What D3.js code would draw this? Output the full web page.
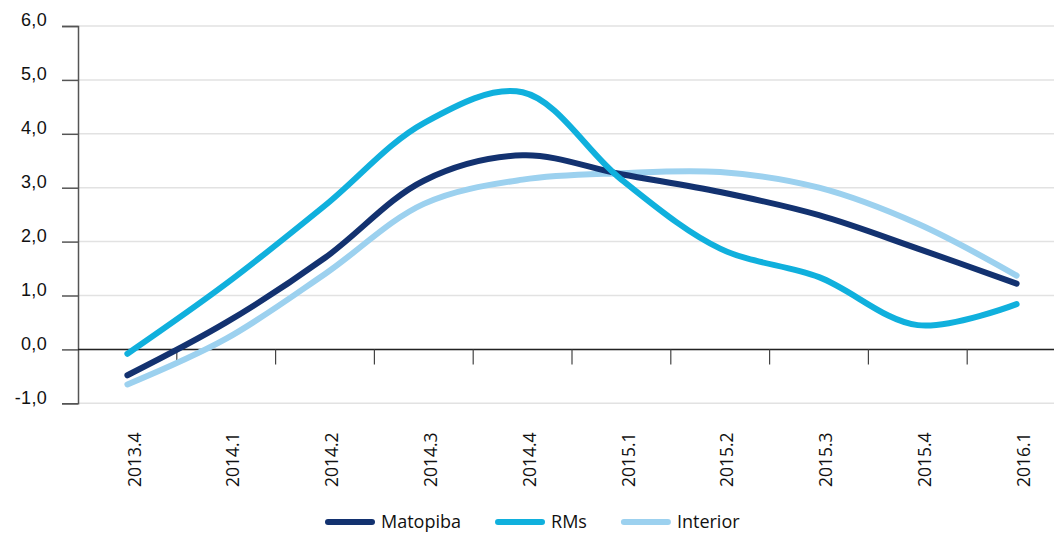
<!DOCTYPE html>
<html>
<head>
<meta charset="utf-8">
<script src="https://cdn.jsdelivr.net/npm/d3@7"></script>
<style>
  body { margin: 0; background: #fff; }
  svg { display: block; font-family: "Open Sans", "Noto Sans", sans-serif; }
</style>
</head>
<body>
<svg id="chart" width="1054" height="533"></svg>
<script>
let quarters = ['2013.4', '2014.1', '2014.2', '2014.3', '2014.4', '2015.1', '2015.2', '2015.3', '2015.4', '2016.1'];
let matopiba = [-0.48, 0.5, 1.7, 3.13, 3.6, 3.25, 2.92, 2.49, 1.87, 1.22];
let rms = [-0.08, 1.22, 2.67, 4.2, 4.77, 3.15, 1.87, 1.34, 0.45, 0.84];
let interior = [-0.65, 0.2, 1.4, 2.7, 3.15, 3.27, 3.29, 3.0, 2.33, 1.37];
let yTicks = [-1, 0, 1, 2, 3, 4, 5, 6];
let seriesNames = ['Matopiba', 'RMs', 'Interior'];

let colors = {Matopiba: '#133270', RMs: '#10b0dd', Interior: '#9cd1ef'};
let seriesData = {Matopiba: matopiba, RMs: rms, Interior: interior};

let width = 1054, height = 533;
let marginLeft = 78, plotTop = 26, plotBottom = 403.3;

let svg = d3.select('#chart');

let x = d3.scaleBand().domain(quarters).range([marginLeft, marginLeft + 98.8 * quarters.length]);
let y = d3.scaleLinear().domain([-1, 6]).range([plotBottom, plotTop]);

let locale = d3.formatLocale({decimal: ',', thousands: '.', grouping: [3], currency: ['', ''], minus: '-'});
let fmt = locale.format('.1f');

// gridlines
svg.append('g')
    .selectAll('line')
    .data(yTicks)
    .join('line')
    .attr('x1', marginLeft)
    .attr('x2', width)
    .attr('y1', d => y(d))
    .attr('y2', d => y(d))
    .attr('stroke', '#e2e2e2')
    .attr('stroke-width', 1.5);

// y axis
let yAxis = svg.append('g')
    .attr('transform', 'translate(' + marginLeft + ',0)')
    .call(d3.axisLeft(y).tickValues(yTicks).tickFormat(fmt).tickSize(16).tickPadding(15));
yAxis.select('.domain').attr('stroke', '#555').attr('stroke-width', 1.5);
yAxis.selectAll('.tick line').attr('stroke', '#555').attr('stroke-width', 1.5);
yAxis.selectAll('.tick text')
    .attr('fill', '#111')
    .attr('y', -6)
    .style('font-size', '18px')
    .style('letter-spacing', '0.3px');

// zero line with category separators
svg.append('line')
    .attr('x1', marginLeft)
    .attr('x2', width)
    .attr('y1', y(0))
    .attr('y2', y(0))
    .attr('stroke', '#222')
    .attr('stroke-width', 1.5);

svg.append('g')
    .selectAll('line')
    .data(quarters.slice(1))
    .join('line')
    .attr('x1', d => x(d))
    .attr('x2', d => x(d))
    .attr('y1', y(0))
    .attr('y2', y(0) + 15)
    .attr('stroke', '#444')
    .attr('stroke-width', 1.2);

// category labels
svg.append('g')
    .selectAll('text')
    .data(quarters)
    .join('text')
    .attr('transform', d => 'translate(' + (x(d) + x.bandwidth() / 2 + 7) + ',487) rotate(-90)')
    .attr('dy', '0.35em')
    .attr('text-anchor', 'start')
    .attr('fill', '#111')
    .style('font-size', '17.5px')
    .text(d => d);

// lines
let line = d3.line()
    .x((d, i) => x(quarters[i]) + x.bandwidth() / 2)
    .y(d => y(d))
    .curve(d3.curveCatmullRom.alpha(0.5));

svg.append('g')
    .selectAll('path')
    .data(['Interior', 'Matopiba', 'RMs'])
    .join('path')
    .attr('d', d => line(seriesData[d]))
    .attr('fill', 'none')
    .attr('stroke', d => colors[d])
    .attr('stroke-width', 6)
    .attr('stroke-linecap', 'round')
    .attr('stroke-linejoin', 'round');

// legend
let legend = svg.append('g');
let lx = 328;
seriesNames.forEach(name => {
    legend.append('line')
        .attr('x1', lx)
        .attr('x2', lx + 44)
        .attr('y1', 522)
        .attr('y2', 522)
        .attr('stroke', colors[name])
        .attr('stroke-width', 6)
        .attr('stroke-linecap', 'round');
    let t = legend.append('text')
        .attr('x', lx + 53)
        .attr('y', 522)
        .attr('dy', '0.36em')
        .attr('fill', '#111')
        .style('font-size', '18px')
        .text(name);
    lx += 53 + t.node().getComputedTextLength() + 37;
});
</script>
</body>
</html>
